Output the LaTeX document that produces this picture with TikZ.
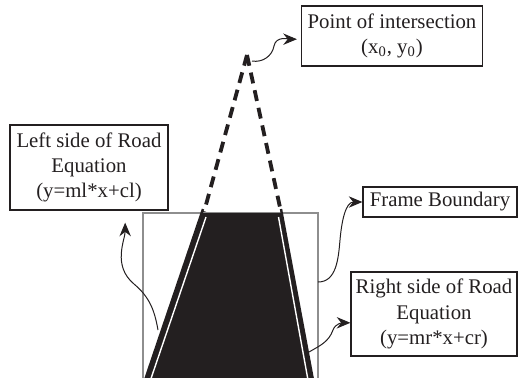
\documentclass[tikz,border=0pt]{standalone}
\usepackage{fontspec}
\setmainfont{Liberation Serif}
\usetikzlibrary{arrows.meta,calc}
\definecolor{inkC}{HTML}{231F20}
\definecolor{frameC}{HTML}{8E8E8E}
\tikzset{
  lbl/.style={draw=inkC, line width=0.6pt, align=center, inner sep=0pt, text=inkC,
              font=\fontsize{10.4}{12.6}\selectfont},
  callout/.style={-{Stealth[length=2.4mm,width=2mm]}, draw=inkC, line width=0.5pt},
  lane/.style={draw=inkC, line width=1.9pt, dash pattern=on 5.5pt off 3.5pt},
}

\begin{document}
\begin{tikzpicture}[x=0.5pt, y=-0.5pt]
\useasboundingbox (0,0) rectangle (519,377);
% labels
\node[lbl, minimum width=90.5pt, minimum height=30pt] (pt) at (392,36) {Point of intersection\\(x\textsubscript{0}, y\textsubscript{0})};
\node[lbl, minimum width=79pt, minimum height=42.5pt] (lft) at (89,167.5) {Left side of Road\\Equation\\(y=ml*x+cl)};
\node[lbl, minimum width=77pt, minimum height=15pt] (frm) at (440,202) {Frame Boundary};
\node[lbl, minimum width=83pt, minimum height=42pt] (rgt) at (434,314) {Right side of Road\\Equation\\(y=mr*x+cr)};
% vanishing lines
\coordinate (apex) at (247,55);
\draw[lane] (apex) -- (204,212);
\draw[lane] (apex) -- (281,212);
% frame and road
\draw[frameC, line width=0.8pt] (143,380) |- (318,213) -- (318,380);
\fill[inkC] (145,380) -- (202,213) -- (282,213) -- (313,380) -- cycle;
\draw[inkC, line width=1.2pt] (145,380) -- (203,209);
\draw[inkC, line width=1.2pt] (313,380) -- (281,209);
\draw[white, line width=0.7pt] (150.5,380) -- (206,217);
\draw[white, line width=0.7pt] (308,380) -- (278.5,217);
% callouts
\coordinate (apexR) at (252,61);
\coordinate (lEdge) at (158,330);
\coordinate (fEdge) at (318,282);
\coordinate (rEdge) at (309,352);
\draw[callout, shorten >=2pt] (apexR) to[out=-10,in=-100] (274,46) to[out=80,in=180] (pt.182);
\draw[callout, shorten >=6pt] (lEdge) to[out=100,in=-40] (134,284) to[out=140,in=-90] (lft.-50);
\draw[callout] (fEdge) to[out=0,in=-95] (340,240) to[out=85,in=180] (frm.west);
\draw[callout] (rEdge) to[out=30,in=-110] (333,330) to[out=70,in=180] (rgt.186);
\end{tikzpicture}
\end{document}
